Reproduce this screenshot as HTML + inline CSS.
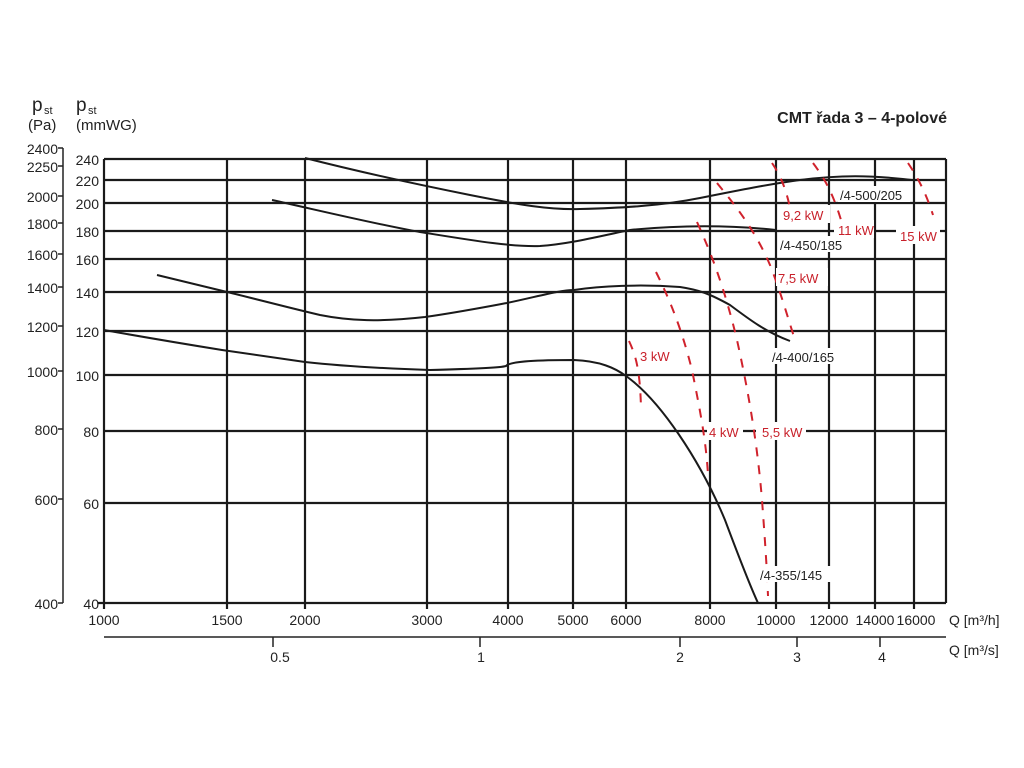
<!DOCTYPE html>
<html><head><meta charset="utf-8"><style>
html,body{margin:0;padding:0;background:#fff;width:1024px;height:768px;overflow:hidden}
svg{display:block}
text{font-family:"Liberation Sans",sans-serif;fill:#222}
.r{fill:#c8202a}
</style></head><body>
<svg width="1024" height="768" viewBox="0 0 1024 768">
<text x="947" y="123" text-anchor="end" font-size="16" font-weight="bold" fill="#222">CMT řada 3 – 4-polové</text>
<g font-size="15">
<text x="32" y="111" font-size="19">p</text><text x="44" y="114" font-size="11">st</text>
<text x="28" y="130">(Pa)</text>
<text x="76" y="111" font-size="19">p</text><text x="88" y="114" font-size="11">st</text>
<text x="76" y="130">(mmWG)</text>
</g>
<!-- Pa axis -->
<g stroke="#222" stroke-width="1.5">
<line x1="63" y1="148" x2="63" y2="603"/>
<line x1="58" y1="148" x2="63" y2="148"/><line x1="58" y1="166" x2="63" y2="166"/>
<line x1="58" y1="196" x2="63" y2="196"/><line x1="58" y1="223" x2="63" y2="223"/>
<line x1="58" y1="254" x2="63" y2="254"/><line x1="58" y1="287" x2="63" y2="287"/>
<line x1="58" y1="326" x2="63" y2="326"/><line x1="58" y1="371" x2="63" y2="371"/>
<line x1="58" y1="429" x2="63" y2="429"/><line x1="58" y1="499" x2="63" y2="499"/>
<line x1="58" y1="603" x2="63" y2="603"/>
</g>
<g font-size="14" text-anchor="end">
<text x="58" y="154">2400</text><text x="58" y="172">2250</text><text x="58" y="202">2000</text>
<text x="58" y="229">1800</text><text x="58" y="260">1600</text><text x="58" y="293">1400</text>
<text x="58" y="332">1200</text><text x="58" y="377">1000</text><text x="58" y="435">800</text>
<text x="58" y="505">600</text><text x="58" y="609">400</text>
</g>
<g font-size="14" text-anchor="end">
<text x="99" y="165">240</text><text x="99" y="186">220</text><text x="99" y="209">200</text>
<text x="99" y="237">180</text><text x="99" y="265">160</text><text x="99" y="298">140</text>
<text x="99" y="337">120</text><text x="99" y="381">100</text><text x="99" y="437">80</text>
<text x="99" y="509">60</text><text x="99" y="609">40</text>
</g>
<!-- grid -->
<g stroke="#1a1a1a" stroke-width="2.2">
<line x1="104" y1="159" x2="946" y2="159"/><line x1="104" y1="180" x2="946" y2="180"/>
<line x1="104" y1="203" x2="946" y2="203"/><line x1="104" y1="231" x2="946" y2="231"/>
<line x1="104" y1="259" x2="946" y2="259"/><line x1="104" y1="292" x2="946" y2="292"/>
<line x1="104" y1="331" x2="946" y2="331"/><line x1="104" y1="375" x2="946" y2="375"/>
<line x1="104" y1="431" x2="946" y2="431"/><line x1="104" y1="503" x2="946" y2="503"/>
<line x1="98" y1="603" x2="946" y2="603"/>
<line x1="104" y1="159" x2="104" y2="609"/><line x1="227" y1="159" x2="227" y2="609"/>
<line x1="305" y1="159" x2="305" y2="609"/><line x1="427" y1="159" x2="427" y2="609"/>
<line x1="508" y1="159" x2="508" y2="609"/><line x1="573" y1="159" x2="573" y2="609"/>
<line x1="626" y1="159" x2="626" y2="609"/><line x1="710" y1="159" x2="710" y2="609"/>
<line x1="776" y1="159" x2="776" y2="609"/><line x1="829" y1="159" x2="829" y2="609"/>
<line x1="875" y1="159" x2="875" y2="609"/><line x1="914" y1="159" x2="914" y2="609"/>
<line x1="946" y1="159" x2="946" y2="603"/>
</g>
<!-- curves -->
<g fill="none" stroke="#1a1a1a" stroke-width="2">
<path d="M104,330 C160,340 222,350 222,350 L305,362 C350,367 400,369 430,370 C470,369 500,368 506,366 C510,361 540,360 574,360 C600,361 615,368 626,376 C660,400 700,460 725,520 C740,560 752,590 758,603"/>
<path d="M157,275 L227,292 C260,300 290,308 320,315 C350,321 380,322 425,317 C460,312 490,306 507,303 C540,296 560,290 574,290 C600,286 640,284 680,287 C700,290 710,294 730,305 C750,320 766,332 790,341"/>
<path d="M272,200 C330,213 380,225 420,232 C470,240 510,247 540,246 C570,244 600,236 630,230 C670,226 720,224 776,230"/>
<path d="M305,158 C360,172 420,185 470,195 C520,205 550,210 580,209 C620,208 660,206 700,198 C740,190 770,184 800,180 C840,175 870,175 912,180"/>
</g>
<!-- red dashed -->
<g fill="none" stroke="#d0222c" stroke-width="2" stroke-dasharray="9,9">
<path d="M629,341 C636,356 640,370 641,408"/>
<path d="M656,272 C670,300 682,330 692,370 C700,410 706,440 708,475"/>
<path d="M697,222 C712,255 725,290 737,340 C748,390 757,440 762,500 C765,540 767,570 768,596"/>
<path d="M717,183 C735,205 755,230 770,265 C780,290 787,315 795,340"/>
<path d="M772,163 C780,175 788,190 793,225"/>
<path d="M813,163 C822,175 832,190 841,220"/>
<path d="M908,163 C916,175 925,190 933,215"/>
</g>
<!-- label backgrounds -->
<g fill="#fff">
<rect x="638" y="346" width="34" height="18"/><rect x="707" y="422" width="36" height="18"/>
<rect x="756" y="422" width="50" height="18"/><rect x="776" y="268" width="52" height="18"/>
<rect x="780" y="205" width="50" height="18"/><rect x="834" y="220" width="40" height="18"/>
<rect x="896" y="226" width="44" height="18"/>
<rect x="838" y="186" width="72" height="16"/><rect x="778" y="236" width="72" height="16"/>
<rect x="769" y="348" width="72" height="16"/><rect x="759" y="566" width="72" height="16"/>
</g>
<g font-size="13">
<text class="r" x="640" y="361">3 kW</text><text class="r" x="709" y="437">4 kW</text>
<text class="r" x="762" y="437">5,5 kW</text><text class="r" x="778" y="283">7,5 kW</text>
<text class="r" x="783" y="220">9,2 kW</text><text class="r" x="838" y="235">11 kW</text>
<text class="r" x="900" y="241">15 kW</text>
<text x="840" y="200">/4-500/205</text><text x="780" y="250">/4-450/185</text>
<text x="772" y="362">/4-400/165</text><text x="760" y="580">/4-355/145</text>
</g>
<!-- bottom axes -->
<g font-size="14" text-anchor="middle">
<text x="104" y="625">1000</text><text x="227" y="625">1500</text><text x="305" y="625">2000</text>
<text x="427" y="625">3000</text><text x="508" y="625">4000</text><text x="573" y="625">5000</text>
<text x="626" y="625">6000</text><text x="710" y="625">8000</text><text x="776" y="625">10000</text>
<text x="829" y="625">12000</text><text x="875" y="625">14000</text><text x="916" y="625">16000</text>
</g>
<text x="949" y="625" font-size="14">Q [m³/h]</text>
<g stroke="#222" stroke-width="1.5">
<line x1="104" y1="637" x2="946" y2="637"/>
<line x1="273" y1="637" x2="273" y2="647"/><line x1="480" y1="637" x2="480" y2="647"/>
<line x1="680" y1="637" x2="680" y2="647"/><line x1="797" y1="637" x2="797" y2="647"/>
<line x1="880" y1="637" x2="880" y2="647"/>
</g>
<g font-size="14" text-anchor="middle">
<text x="280" y="662">0.5</text><text x="481" y="662">1</text><text x="680" y="662">2</text>
<text x="797" y="662">3</text><text x="882" y="662">4</text>
</g>
<text x="949" y="655" font-size="14">Q [m³/s]</text>
</svg>
</body></html>
